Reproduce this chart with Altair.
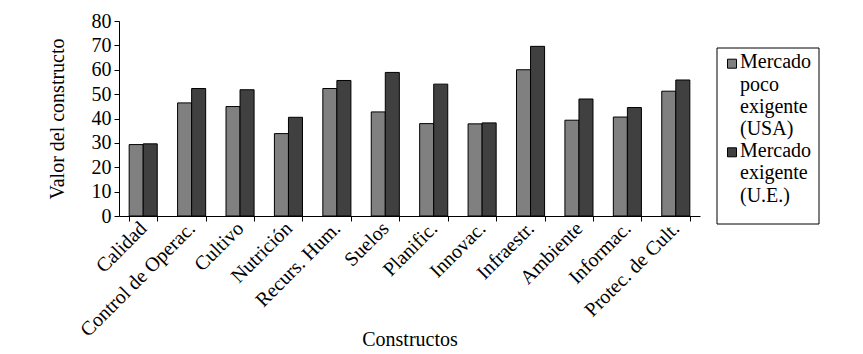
import altair as alt
import pandas as pd

categories = ["Calidad", "Control de Operac.", "Cultivo", "Nutrición", "Recurs. Hum.",
              "Suelos", "Planific.", "Innovac.", "Infraestr.", "Ambiente", "Informac.",
              "Protec. de Cult."]
usa = [29.3, 46.4, 44.9, 33.8, 52.3, 42.7, 37.9, 37.8, 60.0, 39.3, 40.6, 51.2]
ue = [29.6, 52.3, 51.8, 40.5, 55.6, 58.9, 54.1, 38.2, 69.6, 48.0, 44.5, 55.8]
series = ["Mercado poco exigente (USA)", "Mercado exigente (U.E.)"]
legend_labels = ["Mercado|poco|exigente|(USA)", "Mercado|exigente|(U.E.)"]
colors = ["#808080", "#404040"]
y_ticks = [0, 10, 20, 30, 40, 50, 60, 70, 80]

rows = []
for c, a, b in zip(categories, usa, ue):
    rows.append({"Constructo": c, "Serie": series[0], "Valor": a})
    rows.append({"Constructo": c, "Serie": series[1], "Valor": b})
df = pd.DataFrame(rows)

FONT = "Liberation Serif"
W, H = 581, 195

bars = alt.Chart(df).mark_bar(stroke="black", strokeWidth=1).encode(
    x=alt.X("Constructo:N", sort=categories,
            scale=alt.Scale(paddingInner=0.42, paddingOuter=0.21),
            axis=alt.Axis(title="Constructos", labelAngle=-45, labelAlign="right",
                          labelBaseline="middle", tickBand="extent", labelLimit=400,
                          labelPadding=4, tickSize=5, titleBaseline="alphabetic",
                          titleY=129, titleX=W / 2)),
    xOffset=alt.XOffset("Serie:N", sort=series),
    y=alt.Y("Valor:Q", scale=alt.Scale(domain=[0, 80]),
            axis=alt.Axis(title="Valor del constructo", values=y_ticks, grid=False,
                          tickSize=5, labelPadding=3, titleBaseline="alphabetic",
                          titleX=-56, titleY=H / 2)),
    color=alt.Color("Serie:N", scale=alt.Scale(domain=series, range=colors), legend=None),
)

one = pd.DataFrame({"k": [0]})
box = alt.Chart(one).mark_rect(fill="white", stroke="black", strokeWidth=1).encode(
    x=alt.value(598), x2=alt.value(700), y=alt.value(27), y2=alt.value(203))

sq1 = alt.Chart(one).mark_square(size=81, fill=colors[0], stroke="black", strokeWidth=1, opacity=1).encode(
    x=alt.value(613), y=alt.value(42.7))
sq2 = alt.Chart(one).mark_square(size=81, fill=colors[1], stroke="black", strokeWidth=1, opacity=1).encode(
    x=alt.value(613), y=alt.value(131.3))

tx1 = alt.Chart(one).mark_text(align="left", baseline="alphabetic", lineBreak="|", lineHeight=22.3,
                               font=FONT, fontSize=20, color="black").encode(
    x=alt.value(621), y=alt.value(47.3), text=alt.value(legend_labels[0]))
tx2 = alt.Chart(one).mark_text(align="left", baseline="alphabetic", lineBreak="|", lineHeight=22.3,
                               font=FONT, fontSize=20, color="black").encode(
    x=alt.value(621), y=alt.value(136), text=alt.value(legend_labels[1]))

chart = alt.layer(bars, box, sq1, sq2, tx1, tx2).properties(
    width=W, height=H,
    autosize=alt.AutoSizeParams(type="none"),
    padding={"left": 119, "top": 21, "right": 163, "bottom": 138},
    background="white",
).configure_view(stroke=None).configure_axis(
    labelFont=FONT, titleFont=FONT, labelFontSize=20, titleFontSize=20,
    titleFontWeight="normal", labelColor="black", titleColor="black",
    domainColor="black", tickColor="black", domainWidth=1, tickWidth=1,
)

chart.save("out.html", embed_options={"renderer": "svg", "actions": False})
